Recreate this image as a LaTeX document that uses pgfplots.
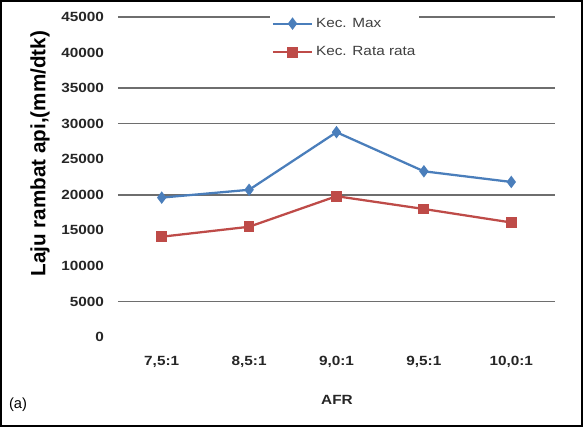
\documentclass[border=0pt]{standalone}
\usepackage{fontspec}
\setmainfont{Liberation Sans}
\newfontfamily\tickfont[FakeStretch=1.15]{Liberation Sans}
\usepackage{pgfplots}
\pgfplotsset{compat=1.18}
\definecolor{exblue}{RGB}{74,126,187}
\definecolor{exred}{RGB}{190,75,72}
\definecolor{gridc}{RGB}{110,110,110}
\begin{document}
\begin{tikzpicture}
\useasboundingbox (0,0) rectangle (437.25pt,320.25pt);
\draw[line width=1.2pt] (0.6pt,0.6pt) rectangle (436.65pt,319.65pt);
\begin{axis}[
  scale only axis, width=327.75pt, height=240pt,
  at={(88.5pt,67.5pt)}, anchor=south west,
  xmin=-0.5, xmax=4.5, ymin=0, ymax=45000,
  axis line style={draw=none},
  xtick={0,1,2,3,4},
  xticklabels={{7,5:1},{8,5:1},{9,0:1},{9,5:1},{10,0:1}},
  ytick={0,5000,...,45000},
  scaled y ticks=false,
  tick style={draw=none},
  major tick length=0pt,
  /pgf/number format/assume math mode=true,
  /pgf/number format/1000 sep={},
  /pgf/number format/fixed,
  tick label style={font=\tickfont\bfseries\fontsize{10}{12}\selectfont, text=black!85},
  yticklabel style={xshift=-7pt},
  xticklabel style={yshift=-11pt},
  extra y ticks={5000,20000,30000,35000,45000},
  extra y tick labels={},
  extra y tick style={grid=major, major grid style={gridc, line width=1.2pt}},
  clip=false,
  legend cell align=left,
  legend style={at={(axis description cs:0.348,1.01)}, anchor=north west,
    draw=none, fill=white, inner sep=1pt, row sep=9pt,
    font=\tickfont\fontsize{10}{12}\selectfont, text=black!75},
  legend image code/.code={\draw[mark repeat=2,mark phase=2,#1] plot coordinates {(0cm,0cm)(0.52cm,0cm)(1.04cm,0cm)};},
]
\addplot[exblue, line width=1.7pt, mark=diamond*, mark size=3.3pt] coordinates {(0,19600)(1,20700)(2,28800)(3,23300)(4,21800)};
\addlegendentry{Kec. Max}
\addplot[exred, line width=1.7pt, mark=square*, mark size=3.2pt] coordinates {(0,14100)(1,15500)(2,19800)(3,18000)(4,16100)};
\addlegendentry{Kec. Rata rata}
\end{axis}
\node[font=\tickfont\bfseries\fontsize{10}{12}\selectfont, text=black!85] at (252.75pt,20.25pt) {AFR};
\node[font=\fontsize{11}{13}\selectfont] at (13.5pt,16.5pt) {(a)};
\node[rotate=90, font=\bfseries\fontsize{15.5}{18}\selectfont] at (30pt,205pt) {Laju rambat api,(mm/dtk)};
\end{tikzpicture}
\end{document}
